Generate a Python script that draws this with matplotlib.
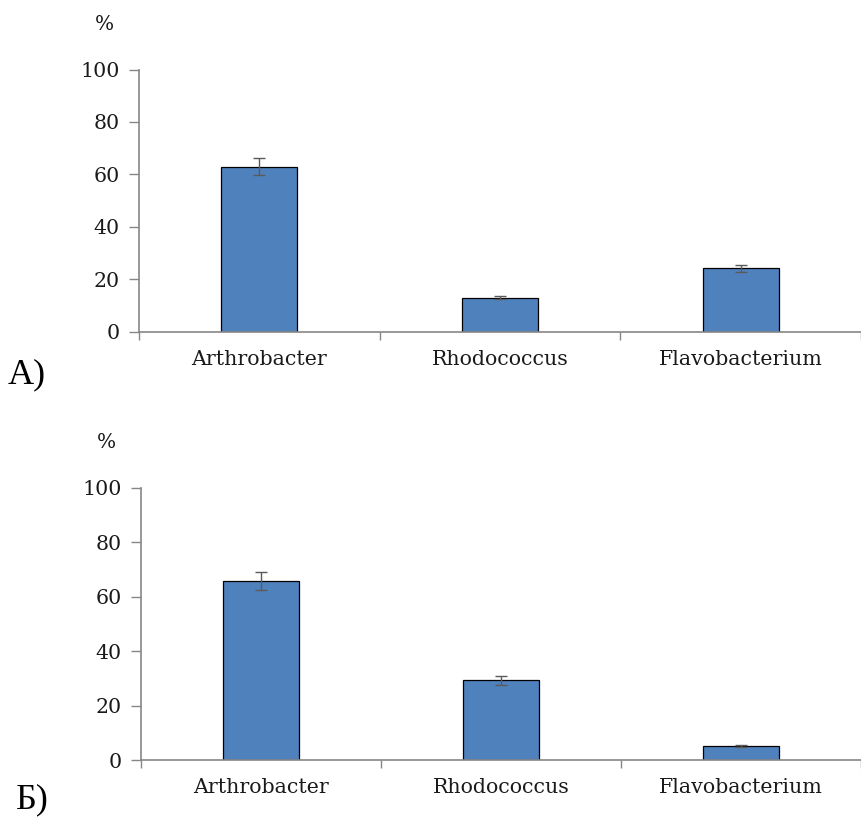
import numpy as np
from matplotlib import pyplot as plt

# -- Data --
genera = ['Arthrobacter', 'Rhodococcus', 'Flavobacterium']
valuesA = [63.0, 13.0, 24.2]
errorsA = [3.2, 0.6, 1.3]
valuesB = [65.8, 29.2, 5.1]
errorsB = [3.3, 1.5, 0.3]
yTicks = [0, 20, 40, 60, 80, 100]

plt.rcParams['font.family'] = ['DejaVu Serif']

BAR_COLOR = '#4F81BD'
AXIS_COLOR = '#868686'
TEXT_COLOR = '#1a1a1a'

fig = plt.figure(figsize=(8.61, 8.19), dpi=100)

W, H = 861.0, 819.0
# axes boxes in pixels: (left, y of 0, y of 100, right, xmax in category units)
panels = [
    (valuesA, errorsA, (139, 331.7, 69.5, 861, 2.46), 'А)', (8, 375)),
    (valuesB, errorsB, (141, 760.0, 487.7, 861, 2.50), 'Б)', (16, 800)),
]

for values, errors, box, letter, letterPos in panels:
    left, y0, y100, right, xmax = box
    ax = fig.add_axes([left/W, 1 - y0/H, (right - left)/W, (y0 - y100)/H])
    xPos = np.arange(len(genera))
    ax.bar(xPos, values, width=0.315, color=BAR_COLOR, edgecolor='black',
           linewidth=0.9, zorder=2)
    ax.errorbar(xPos, values, yerr=errors, fmt='none', ecolor='#5a5a5a',
                elinewidth=1.0, capsize=4.5, capthick=1.0, zorder=3)
    ax.set_xlim(-0.5, xmax)
    ax.set_ylim(0, 100)
    ax.set_yticks(yTicks)
    ax.set_yticklabels([str(t) for t in yTicks], fontsize=14.8, color=TEXT_COLOR)
    # category boundary ticks on x axis, labels centred under bars
    ax.set_xticks(np.arange(-0.5, len(genera), 1.0))
    ax.set_xticklabels([])
    ax.set_xticks(xPos, minor=True)
    ax.set_xticklabels(genera, minor=True, fontsize=14.8, color=TEXT_COLOR)
    ax.tick_params(axis='x', which='minor', length=0, pad=13)
    ax.tick_params(axis='x', which='major', length=6, width=1, color=AXIS_COLOR, direction='out')
    ax.tick_params(axis='y', length=7, width=1, color=AXIS_COLOR, direction='out', pad=7)
    for side in ['top', 'right']:
        ax.spines[side].set_visible(False)
    for side in ['left', 'bottom']:
        ax.spines[side].set_color(AXIS_COLOR)
        ax.spines[side].set_linewidth(1.2)
    ax.spines['bottom'].set_zorder(4)
    fig.text((left - 35)/W, 1 - (y100 - 45)/H, '%', fontsize=14.5, color=TEXT_COLOR,
             ha='center', va='center')
    fig.text(letterPos[0]/W, 1 - letterPos[1]/H, letter, fontsize=26, color='black',
             ha='left', va='center', family='Liberation Serif')

fig.savefig('out.png', dpi=100)
